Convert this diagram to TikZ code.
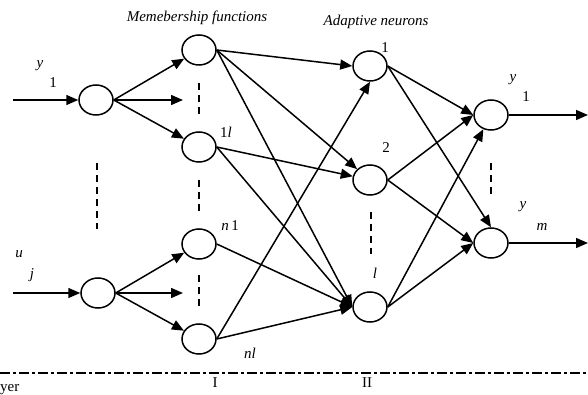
\documentclass[tikz,border=0pt]{standalone}
\usepackage{fontspec}
\setmainfont{Liberation Serif}
\usetikzlibrary{arrows.meta, shapes.geometric}

\begin{document}
\begin{tikzpicture}[
  x=1pt, y=-1pt,
  neuron/.style={ellipse, draw, line width=1.5pt, minimum width=34pt, minimum height=30pt, inner sep=0pt},
  link/.style={draw, line width=1.5pt, -{Triangle[length=12pt,width=10pt]}},
  gap/.style={draw, line width=1.5pt, dash pattern=on 7pt off 5pt},
  lbl/.style={font=\fontsize{15}{17}\selectfont, inner sep=0pt},
  title/.style={font=\fontsize{15}{17}\selectfont\itshape, inner sep=0pt}
]
\useasboundingbox (0,0) rectangle (588,395);

% neurons
\node[neuron] (in1) at (96,100) {};
\node[neuron] (in2) at (98,293) {};
\node[neuron] (mf1) at (199,50) {};
\node[neuron] (mf2) at (199,147) {};
\node[neuron] (mf3) at (199,244) {};
\node[neuron] (mf4) at (199,339) {};
\node[neuron] (ad1) at (370,66) {};
\node[neuron] (ad2) at (370,180) {};
\node[neuron] (ad3) at (370,307) {};
\node[neuron] (out1) at (491,115) {};
\node[neuron] (out2) at (491,243) {};

% free ends
\coordinate (src1) at (13,100);
\coordinate (src2) at (13,293);
\coordinate (mid1) at (183,100);
\coordinate (mid2) at (183,293);
\coordinate (dst1) at (588,115);
\coordinate (dst2) at (588,243);

% titles and labels
\node[title] (tmf) at (197,18) {Memebership functions};
\node[title] (tad) at (376,22) {Adaptive neurons};
\node[lbl] (ly1) at (40,66) {\textit{y}};
\node[lbl] (li1) at (53,83) {1};
\node[lbl] (lu) at (19,254) {\textit{u}};
\node[lbl] (lj) at (32,275) {\textit{j}};
\node[lbl] (lm2) at (226,132) {1\textit{l}};
\node[lbl] (lm3) at (230,226) {\textit{n}\,1};
\node[lbl] (lm4) at (250,353) {\textit{nl}};
\node[lbl] (la1) at (385,48) {1};
\node[lbl] (la2) at (386,148) {2};
\node[lbl] (la3) at (375,273) {\textit{l}};
\node[lbl] (lo1) at (513,80) {\textit{y}};
\node[lbl] (lo1i) at (526,97) {1};
\node[lbl] (lo2) at (523,207) {\textit{y}};
\node[lbl] (lo2i) at (542,227) {\textit{m}};
\node[lbl] (lI) at (215,383) {I};
\node[lbl] (lII) at (367,383) {II};
\node[lbl, anchor=west] (lyer) at (0,390) {yer};

% inputs
\draw[link] (src1) -- (in1);
\draw[link] (src2) -- (in2);
\draw[link] (in1.east) -- (mf1);
\draw[link] (in1.east) -- (mid1);
\draw[link] (in1.east) -- (mf2);
\draw[link] (in2.east) -- (mf3);
\draw[link] (in2.east) -- (mid2);
\draw[link] (in2.east) -- (mf4);

% membership to adaptive
\draw[link] (mf1.east) -- (ad1.west);
\draw[link] (mf1.east) -- (ad2);
\draw[link] (mf1.east) -- (ad3.west);
\draw[link] (mf2.east) -- (ad2);
\draw[link] (mf2.east) -- (ad3.west);
\draw[link] (mf3.east) -- (ad3.west);
\draw[link] (mf4.east) -- (ad3.west);
\draw[link] (mf4.east) -- (ad1.south);

% adaptive to outputs
\draw[link] (ad1.east) -- (out1.west);
\draw[link] (ad1.east) -- (out2.north);
\draw[link] (ad2.east) -- (out1.west);
\draw[link] (ad2.east) -- (out2.west);
\draw[link] (ad3.east) -- (out1);
\draw[link] (ad3.east) -- (out2.west);
\draw[link] (out1) -- (dst1);
\draw[link] (out2) -- (dst2);

% dashed gaps
\draw[gap] (97,163) -- (97,229);
\draw[gap] (199,83) -- (199,116);
\draw[gap] (199,180) -- (199,212);
\draw[gap] (199,275) -- (199,308);
\draw[gap] (371,212) -- (371,254);
\draw[gap] (491,163) -- (491,196);

% layer line
\draw[line width=1.5pt, dash pattern=on 10pt off 3pt on 3pt off 3pt] (0,373) -- (588,373);
\end{tikzpicture}
\end{document}
